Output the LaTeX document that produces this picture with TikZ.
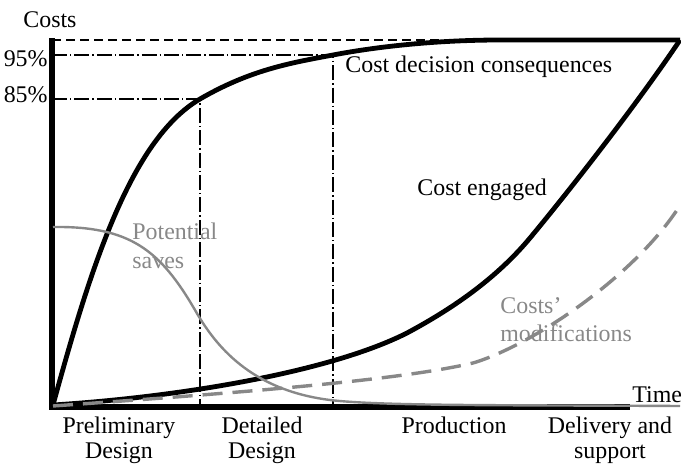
\documentclass[tikz,border=0pt]{standalone}
\usepackage{fontspec}
\setmainfont{Liberation Serif}
\definecolor{curvegray}{HTML}{888888}
\begin{document}
\begin{tikzpicture}[x=0.5pt,y=-0.5pt,
  axis/.style={line width=2.6pt},
  costcurve/.style={line width=2.4pt,line join=round},
  savecurve/.style={curvegray,line width=1.2pt},
  modcurve/.style={curvegray,line width=1.7pt,dash pattern=on 10pt off 5pt},
  guide/.style={line width=0.6pt,dash pattern=on 7.5pt off 1.5pt on 0.7pt off 1.5pt},
  topline/.style={line width=0.7pt,dash pattern=on 4.5pt off 2.5pt},
  txt/.style={font=\fontsize{11.95}{12.5}\selectfont,inner sep=0pt},
  phase/.style={txt,align=center,anchor=north},
  graytxt/.style={font=\fontsize{11.95}{14.25}\selectfont,inner sep=0pt,text=curvegray,align=left,anchor=north west}]
\useasboundingbox (0,0) rectangle (681,466);
\coordinate (origin) at (52,407);
\coordinate (ytop) at (52,38);
\coordinate (xend) at (630,407);
\coordinate (p85) at (200,99);
\coordinate (p95) at (333,55);
\coordinate (top) at (680,40);
\draw[topline] (origin |- top) -- (top);
\draw[guide] (origin |- p95) -- (p95) -- (p95 |- origin);
\draw[guide] (origin |- p85) -- (p85) -- (p85 |- origin);
\draw[axis] (ytop) -- (origin |- xend) -- (xend);
\draw[costcurve] (53,405) .. controls (90,270) and (130,140) .. (p85)
  .. controls (250,70) and (290,63) .. (p95)
  .. controls (380,46) and (440,40) .. (500,40) -- (top);
\draw[costcurve] (53,405) .. controls (180,397) and (330,372) .. (407,333)
  .. controls (450,310) and (495,280) .. (530,238)
  .. controls (570,190) and (640,100) .. (top);
\draw[savecurve] (53,227) .. controls (130,226) and (160,250) .. (195,310)
  .. controls (215,345) and (250,390) .. (330,400)
  .. controls (380,406) and (500,405) .. (680,406);
\draw[modcurve] (53,406) .. controls (250,392) and (400,380) .. (473,363)
  .. controls (530,346) and (630,280) .. (677,210);
\node[txt,anchor=base west] (costs) at (23,27) {Costs};
\node[txt,anchor=base east] (l95) at (48,67) {95\%};
\node[txt,anchor=base east] (l85) at (48,102) {85\%};
\node[txt,anchor=base west] (decision) at (345,72) {Cost decision consequences};
\node[txt,anchor=base west] (engaged) at (417,195) {Cost engaged};
\node[txt,anchor=base west] (time) at (632,402) {Time};
\node[graytxt] (saves) at (132,223) {Potential\\saves};
\node[graytxt] (mods) at (500,297) {Costs'\\modifications};
\node[phase] (prelim) at (119,417) {Preliminary\\Design};
\node[phase] (detailed) at (262,417) {Detailed\\Design};
\node[phase] (prod) at (454,417) {Production};
\node[phase] (delivery) at (610,417) {Delivery and\\support};
\end{tikzpicture}
\end{document}
